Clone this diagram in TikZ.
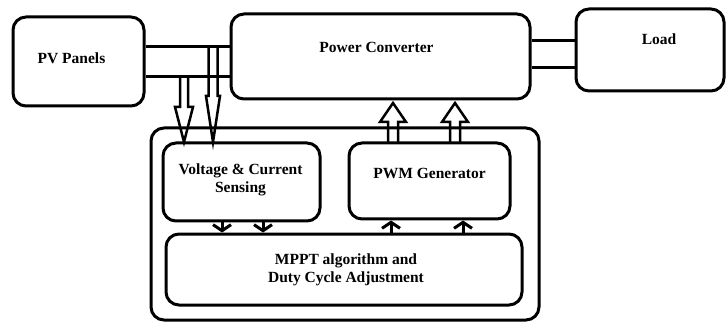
\documentclass[tikz,border=0pt]{standalone}
\usepackage{fontspec}
\setmainfont{Liberation Serif}
\usetikzlibrary{arrows.meta,calc}

\tikzset{
  box/.style={draw, line width=3pt, rounded corners=13pt, inner sep=0pt},
  lbl/.style={font=\bfseries\fontsize{15.5}{18.5}\selectfont, align=center, inner sep=0pt},
  wire/.style={line width=3pt},
  blk/.style={line width=2.5pt, line join=miter},
  tick/.style={line width=3pt, -{Straight Barb[length=6pt,width=18pt,line width=3pt]}}
}

% hollow block arrow: shaft half-width, head start, head half-width, tip (relative to shaft base)
\newcommand\hollowarrow[5]{%
  \draw[blk, shift={(#1)}] (-#2,0) -- (-#2,#3) -- (-#4,#3) -- (0,#5) -- (#4,#3) -- (#2,#3) -- (#2,0);}

\begin{document}
\begin{tikzpicture}[x=1pt,y=-1pt]
\useasboundingbox (0,0) rectangle (728,323);

% blocks
\node[box, minimum width=131pt, minimum height=89pt] (pv) at (78.5,61.5) {};
\node[box, minimum width=299pt, minimum height=85pt] (pc) at (380.5,56.5) {};
\node[box, minimum width=148pt, minimum height=82pt] (load) at (650,50) {};
\node[box, minimum width=388pt, minimum height=192pt] (ctrl) at (345,224) {};
\node[box, minimum width=157pt, minimum height=78pt] (sense) at (241.5,182) {};
\node[box, minimum width=161pt, minimum height=76pt] (pwm) at (429.5,181) {};
\node[box, minimum width=356pt, minimum height=71pt] (mppt) at (344,269.5) {};

% block texts
\node[lbl, anchor=base] (pvtext) at (71.5,64) {PV Panels};
\node[lbl, anchor=base] (pctext) at (376.5,53) {Power Converter};
\node[lbl, anchor=base] (loadtext) at (659,45) {Load};
\node[lbl, anchor=base] (pwmtext) at (429.5,179) {PWM Generator};
\node[lbl] (sensetext) at (240.5,180) {Voltage \& Current\\Sensing};
\node[lbl] (mppttext) at (346,270) {MPPT algorithm and\\Duty Cycle Adjustment};

% power lines
\coordinate (la) at (0,47);
\coordinate (lb) at (0,77);
\coordinate (lc) at (0,41);
\coordinate (ld) at (0,68);
\draw[wire] (pv.east |- la) -- (pc.west |- la);
\draw[wire] (pv.east |- lb) -- (pc.west |- lb);
\draw[wire] (pc.east |- lc) -- (load.west |- lc);
\draw[wire] (pc.east |- ld) -- (load.west |- ld);

% sensing taps
\coordinate (s1) at (184,77);
\coordinate (s2) at (213,47);
\hollowarrow{s1}{4}{30}{9}{65}
\hollowarrow{s2}{4.5}{49}{7}{95}

% gate signals to the converter
\coordinate (g1) at (393,143);
\coordinate (g2) at (455,143);
\hollowarrow{g1}{5}{-21}{13}{-40}
\hollowarrow{g2}{5}{-21}{13}{-40}

% internal signals
\coordinate (xa) at (222,0);
\coordinate (xb) at (263,0);
\coordinate (xc) at (391,0);
\coordinate (xd) at (463,0);
\draw[tick] (sense.south -| xa) -- (mppt.north -| xa);
\draw[tick] (sense.south -| xb) -- (mppt.north -| xb);
\draw[tick] (mppt.north -| xc) -- (pwm.south -| xc);
\draw[tick] (mppt.north -| xd) -- (pwm.south -| xd);
\end{tikzpicture}
\end{document}
